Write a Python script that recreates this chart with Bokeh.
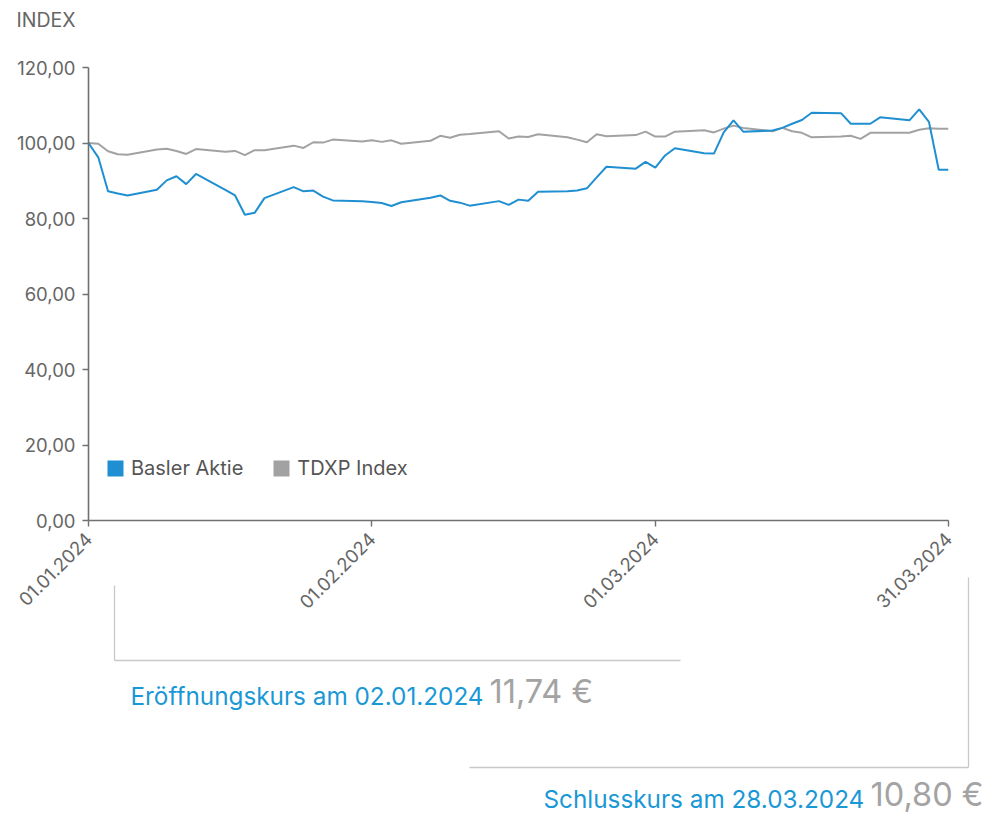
import math
import pandas as pd
from bokeh.plotting import figure
from bokeh.layouts import column
from bokeh.models import (Range1d, FixedTicker, Label, Arrow, Legend, LegendItem,
                          ColumnDataSource)
from bokeh.embed import file_html
from bokeh.resources import INLINE

# ---------------- data ----------------
dates = [
    "2024-01-01", "2024-01-02", "2024-01-03", "2024-01-04", "2024-01-05",
    "2024-01-08", "2024-01-09", "2024-01-10", "2024-01-11", "2024-01-12",
    "2024-01-15", "2024-01-16", "2024-01-17", "2024-01-18", "2024-01-19",
    "2024-01-22", "2024-01-23", "2024-01-24", "2024-01-25", "2024-01-26",
    "2024-01-29", "2024-01-30", "2024-01-31", "2024-02-01", "2024-02-02",
    "2024-02-05", "2024-02-06", "2024-02-07", "2024-02-08", "2024-02-09",
    "2024-02-12", "2024-02-13", "2024-02-14", "2024-02-15", "2024-02-16",
    "2024-02-19", "2024-02-20", "2024-02-21", "2024-02-22", "2024-02-23",
    "2024-02-26", "2024-02-27", "2024-02-28", "2024-02-29", "2024-03-01",
    "2024-03-04", "2024-03-05", "2024-03-06", "2024-03-07", "2024-03-08",
    "2024-03-11", "2024-03-12", "2024-03-13", "2024-03-14", "2024-03-15",
    "2024-03-18", "2024-03-19", "2024-03-20", "2024-03-21", "2024-03-22",
    "2024-03-25", "2024-03-26", "2024-03-27", "2024-03-28", "2024-03-29",
]
basler = [
    100.0, 96.2, 87.2, 86.6, 86.1,
    87.6, 90.1, 91.2, 89.1, 91.8,
    87.6, 86.1, 81.0, 81.5, 85.4,
    88.3, 87.2, 87.4, 85.8, 84.8,
    84.6, 84.4, 84.1, 83.3, 84.3,
    85.5, 86.1, 84.7, 84.2, 83.4,
    84.6, 83.6, 85.0, 84.7, 87.1,
    87.2, 87.4, 88.0, 90.9, 93.7,
    93.2, 95.0, 93.5, 96.7, 98.6,
    97.3, 97.2, 102.8, 106.0, 103.0,
    103.3, 104.0, 105.1, 106.1, 108.0,
    107.9, 105.1, 105.1, 105.1, 106.8,
    106.0, 108.9, 105.6, 92.9, 92.9,
]
tdxp = [
    100.0, 99.8, 97.8, 97.0, 96.9,
    98.3, 98.5, 97.9, 97.1, 98.4,
    97.7, 97.9, 96.8, 98.1, 98.1,
    99.3, 98.7, 100.2, 100.1, 100.9,
    100.4, 100.7, 100.3, 100.7, 99.8,
    100.6, 101.9, 101.4, 102.2, 102.4,
    103.1, 101.2, 101.7, 101.6, 102.3,
    101.5, 100.9, 100.2, 102.3, 101.8,
    102.1, 103.0, 101.7, 101.7, 103.0,
    103.4, 102.8, 103.8, 104.6, 104.0,
    103.1, 104.0, 103.1, 102.7, 101.5,
    101.7, 101.9, 101.1, 102.7, 102.7,
    102.7, 103.5, 103.9, 103.8, 103.8,
]
series_names = ["Basler Aktie", "TDXP Index"]
y_ticks = [0, 20, 40, 60, 80, 100, 120]
y_tick_labels = ["0,00", "20,00", "40,00", "60,00", "80,00", "100,00", "120,00"]
x_tick_dates = ["2024-01-01", "2024-01-30", "2024-02-28", "2024-03-29"]
x_tick_labels = ["01.01.2024", "01.02.2024", "01.03.2024", "31.03.2024"]
axis_title = "INDEX"
open_text = "Eröffnungskurs am 02.01.2024"
open_value = "11,74 €"
close_text = "Schlusskurs am 28.03.2024"
close_value = "10,80 €"

# ---------------- styling ----------------
FONT = "Inter"
BLUE = "#1f8fd1"
GREY = "#a2a2a2"
TXT = "#666666"
AXIS = "#707070"
TEXT_BLUE = "#1a98d6"
VAL_GREY = "#a3a3a3"
BRACKET = "#c8c8c8"

src = ColumnDataSource(dict(date=pd.to_datetime(dates), basler=basler, tdxp=tdxp))

W, H = 988, 815
FL, FT, FR, FB = 88, 67, 948, 520   # frame edges in page pixels

p = figure(width=W, height=H, x_axis_type="datetime",
           x_range=Range1d(pd.Timestamp(dates[0]), pd.Timestamp(dates[-1])),
           y_range=Range1d(y_ticks[0], y_ticks[-1]),
           toolbar_location=None, output_backend="svg",
           min_border_left=FL, min_border_right=W - FR,
           min_border_top=FT, min_border_bottom=H - FB)
p.outline_line_color = None
p.xgrid.visible = False
p.ygrid.visible = False
p.frame_align = False

tick_ms = [int(pd.Timestamp(d).value // 10**6) for d in x_tick_dates]
p.xaxis.ticker = FixedTicker(ticks=tick_ms)
p.xaxis.major_label_overrides = {t: l for t, l in zip(tick_ms, x_tick_labels)}
p.xaxis.major_label_orientation = math.pi / 4
p.yaxis.ticker = FixedTicker(ticks=y_ticks)
p.yaxis.major_label_overrides = {t: l for t, l in zip(y_ticks, y_tick_labels)}
for ax in (p.xaxis, p.yaxis):
    ax.axis_line_color = AXIS
    ax.axis_line_width = 1.6
    ax.major_tick_line_color = AXIS
    ax.major_tick_line_width = 1.4
    ax.major_tick_in = 0
    ax.major_tick_out = 6
    ax.minor_tick_line_color = None
    ax.major_label_text_font = FONT
    ax.major_label_text_font_size = "18.5px"
    ax.major_label_text_color = TXT
p.yaxis.major_label_standoff = 7
p.xaxis.major_label_standoff = 9

p.line(x="date", y="tdxp", source=src, line_color=GREY, line_width=2)
p.line(x="date", y="basler", source=src, line_color=BLUE, line_width=2)

# legend swatches (square icons) - hidden renderers, shown only as legend icons
q1 = p.quad(left="date", right="date", top="basler", bottom="basler", source=src,
            fill_color=BLUE, line_color=None, visible=False)
q2 = p.quad(left="date", right="date", top="tdxp", bottom="tdxp", source=src,
            fill_color=GREY, line_color=None, visible=False)
legend = Legend(items=[LegendItem(label=series_names[0], renderers=[q1]),
                       LegendItem(label=series_names[1], renderers=[q2])],
                orientation="horizontal", location=(17, 40),
                glyph_width=20, glyph_height=20, padding=0, margin=0,
                spacing=28, label_standoff=6,
                label_text_font=FONT, label_text_font_size="20px",
                label_text_color="#555555",
                inactive_fill_alpha=0,
                border_line_color=None, background_fill_alpha=0)
p.add_layout(legend)

# ---------------- transparent overlay for the texts outside the plot frame ----------------
ov = figure(width=W, height=H, x_range=Range1d(0, W), y_range=Range1d(0, H),
            toolbar_location=None, output_backend="svg",
            x_axis_location=None, y_axis_location=None,
            min_border_left=0, min_border_right=0, min_border_top=0, min_border_bottom=0)
ov.xgrid.visible = False
ov.ygrid.visible = False
ov.outline_line_color = None
ov.background_fill_color = None
ov.border_fill_color = None
ov.frame_align = False
ov.margin = (-H, 0, 0, 0)


# overlay frame == whole canvas: x from left, y up from bottom
def lab(text, sx, sy, size, color, align="left", baseline="alphabetic"):
    ov.add_layout(Label(x=sx, y=H - sy, x_units="screen", y_units="screen",
                        text=text, text_font=FONT, text_font_size=size,
                        text_color=color, text_align=align,
                        text_baseline=baseline))


def seg(sx0, sy0, sx1, sy1):
    ov.add_layout(Arrow(end=None, x_start=sx0, y_start=H - sy0,
                        x_end=sx1, y_end=H - sy1,
                        start_units="screen", end_units="screen",
                        line_color=BRACKET, line_width=1.3))


lab(axis_title, 16, 19, "19.5px", TXT)

seg(114, 585, 114, 660)
seg(114, 660, 680, 660)
seg(968, 577, 968, 767)
seg(469, 767, 968, 767)

lab(open_text, 130, 695, "24.3px", TEXT_BLUE)
lab(open_value, 489, 691, "32.5px", VAL_GREY)
lab(close_text, 543, 798, "24.3px", TEXT_BLUE)
lab(close_value, 870, 794, "32.5px", VAL_GREY)

open("out.html", "w").write(file_html(column(p, ov), INLINE))
